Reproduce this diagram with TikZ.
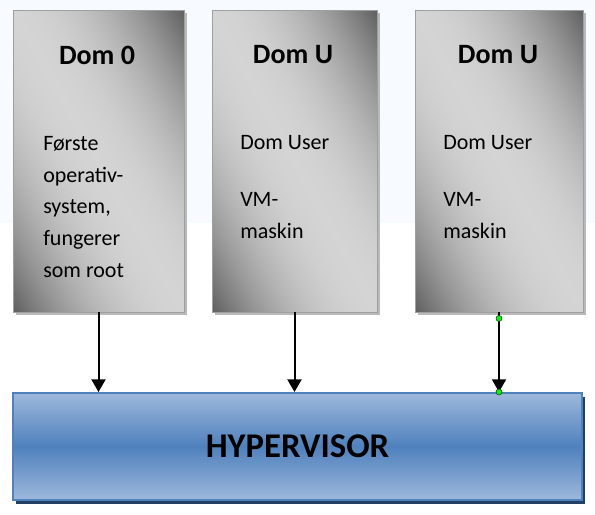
\documentclass[tikz,border=0pt]{standalone}
\usepackage{fontspec}
\setmainfont{Carlito}
\usetikzlibrary{shadows,arrows.meta}

\definecolor{hyplight}{HTML}{9DB8DB}
\definecolor{hypmid}{HTML}{4F81BD}
\definecolor{hypshadow}{HTML}{243F66}
\definecolor{handle}{HTML}{19E619}
\definecolor{tint}{HTML}{F7FAFE}

% light along the diagonal, dark towards the two other corners
\pgfdeclarefunctionalshading{metal}{\pgfpoint{0bp}{0bp}}{\pgfpoint{100bp}{100bp}}{}{
  add 50 sub 100 div 0.5 sub abs 2 mul
  dup 1 gt {pop 1} if
  dup mul
  0.46 mul neg 0.83 add
  dup dup
}
\pgfdeclareverticalshading{hypgrad}{100bp}{color(0bp)=(hyplight); color(25bp)=(hyplight); color(50bp)=(hypmid); color(75bp)=(hyplight); color(100bp)=(hyplight)}

\tikzset{
  dombox/.style={draw=gray!75, line width=0.6pt, shading=metal,
    minimum height=226.5pt, inner sep=0pt,
    drop shadow={shadow xshift=2pt, shadow yshift=-2pt, fill=gray!55, opacity=1}},
  hypbox/.style={draw=hypmid, line width=1.5pt, shading=hypgrad,
    minimum width=426.75pt, minimum height=80.25pt,
    drop shadow={shadow xshift=2.5pt, shadow yshift=-3pt, fill=hypshadow, opacity=1},
    font=\fontsize{26}{30}\selectfont\bfseries},
  domtitle/.style={font=\fontsize{21}{25}\selectfont\bfseries},
  domtext/.style={anchor=north west, inner sep=0pt, align=left,
    font=\fontsize{16.5}{23.8}\selectfont},
  link/.style={line width=1.5pt, -{Triangle[length=9.5pt,width=10.5pt]}},
  handledot/.style={circle, fill=handle, draw=black!70!green, line width=0.4pt,
    inner sep=0pt, minimum size=4.5pt}
}

\begin{document}
\begin{tikzpicture}[x=0.75pt,y=-0.75pt]
  \useasboundingbox (0,0) rectangle (595,514);
  \fill[tint] (0,0) rectangle (595,223);

  %Domains
  \node[dombox, minimum width=128.25pt] (dom0) at (98.5,161) {};
  \node[dombox, minimum width=123.75pt] (domu1) at (294.5,161) {};
  \node[dombox, minimum width=126pt] (domu2) at (499,161) {};
  \node[domtitle] (t0) at (97,55) {Dom 0};
  \node[domtitle] (t1) at (293,55) {Dom U};
  \node[domtitle] (t2) at (498,55) {Dom U};
  \node[domtext] (x0) at (43,136) {Første\\operativ-\\system,\\fungerer\\som root};
  \node[domtext] (x1) at (240,135) {Dom User\\[19pt]VM-\\maskin};
  \node[domtext] (x2) at (443,135) {Dom User\\[19pt]VM-\\maskin};

  %Hypervisor
  \node[hypbox] (hyp) at (297.5,446.5) {HYPERVISOR};

  %Arrows
  \draw[link] (dom0) -- (dom0 |- hyp.north);
  \draw[link] (domu1) -- (domu1 |- hyp.north);
  \draw[link] (domu2) -- (domu2 |- hyp.north);
  \node[handledot] (h1) at ([yshift=-4.5pt]domu2.south) {};
  \node[handledot] (h2) at (domu2 |- hyp.north) {};
\end{tikzpicture}
\end{document}
